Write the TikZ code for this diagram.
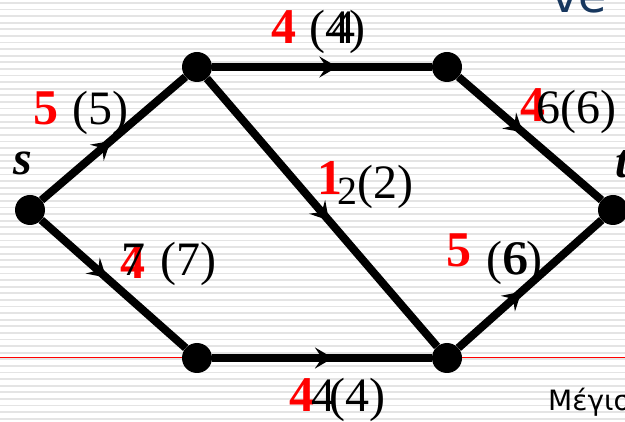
\documentclass[tikz,border=0pt]{standalone}
\usepackage{fontspec}
\setmainfont{Liberation Serif}
\newfontfamily\slidefont{DejaVu Sans}
\usepackage{tikz}
\usetikzlibrary{
    positioning,
    arrows.meta,
    decorations.markings
}
\definecolor{titleblue}{RGB}{23,55,94}
\definecolor{paperline}{RGB}{228,228,228}
\tikzset{
    >=Stealth,
    vertex/.style={
        circle,
        fill=black,
        inner sep=0pt,
        minimum size=30pt
    },
    flowedge/.style={
        line width=8pt,
        postaction={decorate},
        decoration={
            markings,
            mark=at position #1 with {\arrow{Stealth[length=18pt,width=21pt,inset=7pt]}}
        }
    },
    newflow/.style={
        anchor=base west,
        inner sep=0pt,
        text=red,
        font=\fontsize{50}{50}\selectfont\bfseries
    },
    oldflow/.style={
        anchor=base west,
        inner sep=0pt,
        font=\fontsize{48}{48}\selectfont
    },
    termlabel/.style={
        anchor=base west,
        inner sep=0pt,
        font=\fontsize{48}{48}\selectfont\bfseries\itshape
    }
}

\begin{document}
\begin{tikzpicture}[
    x=1pt,
    y=-1pt
]
    \useasboundingbox (0,0) rectangle (625,422);

    % Papel rayado
    \foreach \y in {3,9.6,...,422}
        \draw[paperline, line width=1.8pt] (0,\y) -- (625,\y);
    \draw[red, line width=0.8pt] (0,357.5) -- (625,357.5);

    % Vertices
    \node[vertex] (s) at (30,210) {};
    \node[vertex] (a) at (197,67) {};
    \node[vertex] (b) at (447,67) {};
    \node[vertex] (c) at (197,358) {};
    \node[vertex] (d) at (447,358) {};
    \node[vertex] (t) at (613,210) {};

    % Aristas
    \path
        (s) edge[flowedge=0.48] (a)
        (a) edge[flowedge=0.57] (b)
        (a) edge[flowedge=0.53] (d)
        (b) edge[flowedge=0.45] (t)
        (s) edge[flowedge=0.45] (c)
        (c) edge[flowedge=0.55] (d)
        (d) edge[flowedge=0.44] (t);

    % Nombres de s y t
    \node[termlabel] (slbl) at (13,175) {s};
    \node[termlabel] (tlbl) at (615,178) {t};

    % Flujos: s -> a
    \node[newflow] (fsa) at (33,125) {5};
    \node[oldflow] (csa) at (72,125) {(5)};

    % a -> b
    \node[newflow] (fab) at (271,44) {4};
    \node[oldflow] (cab) at (309,44) {(4)};
    \node[oldflow] (cab2) at (331,44) {4};

    % b -> t
    \node[newflow] (fbt) at (520,122) {4};
    \node[oldflow] (cbt) at (536,124) {6(6)};

    % a -> d
    \node[newflow] (fad) at (317,195) {1};
    \node[oldflow, font=\fontsize{40}{40}\selectfont] (cad2) at (337,205) {2};
    \node[oldflow] (cad) at (357,199) {(2)};

    % s -> c
    \node[newflow] (fsc) at (120,279) {4};
    \node[oldflow] (csc2) at (121,276) {7};
    \node[oldflow] (csc) at (160,276) {(7)};

    % d -> t
    \node[newflow] (fdt) at (446,267) {5};
    \node[oldflow] (cdt) at (486,275) {(6)};
    \node[oldflow] (cdt2) at (504,275) {6};

    % c -> d
    \node[newflow] (fcd) at (289,412) {4};
    \node[oldflow] (ccd2) at (311,412) {4};
    \node[oldflow] (ccd) at (329,412) {(4)};

    % Restos de la diapositiva
    \node[anchor=base west, inner sep=0pt, text=titleblue,
          font=\slidefont\fontsize{46}{46}\selectfont] (title) at (551,13) {ve};
    \node[anchor=base west, inner sep=0pt,
          font=\slidefont\fontsize{28}{28}\selectfont] (note) at (548,411) {Μέγισ};

\end{tikzpicture}
\end{document}
